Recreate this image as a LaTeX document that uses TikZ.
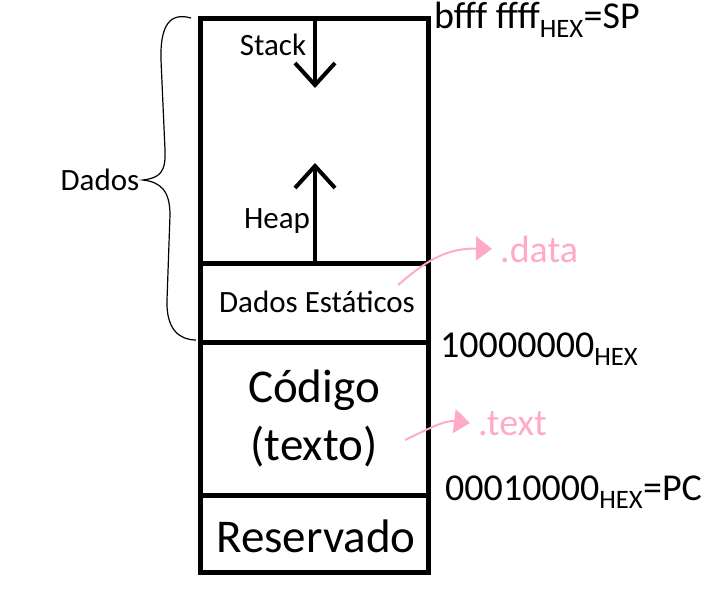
\documentclass[tikz,border=0pt]{standalone}
\usepackage{fontspec}
\setmainfont{Carlito}
\usetikzlibrary{arrows.meta}
\definecolor{mypink}{RGB}{255,170,200}

\tikzset{
  seg/.style={draw, line width=5pt, minimum width=228pt, inner sep=0pt, outer sep=0pt},
  seta/.style={line width=4pt, -{Straight Barb[length=22pt,width=40pt]}},
  rosa/.style={mypink, line width=2pt, shorten >=8pt, -{Triangle[length=16pt,width=24pt]}},
  mao/.style={font=\fontsize{38}{40}\selectfont, inner sep=0pt}
}

\begin{document}
\begin{tikzpicture}[x=1pt,y=-1pt]

% Background
\useasboundingbox (0,0) rectangle (708,603);

% Memory segments
\node[seg, minimum height=245pt] (pilha) at (314,140.5) {};
\node[seg, minimum height=79pt] (estaticos) at (314,302.5) {};
\node[seg, minimum height=153pt] (codigo) at (314,418.5) {};
\node[seg, minimum height=77pt] (reservado) at (314,533.5) {};

% Labels inside
\node[font=\fontsize{31}{34}\selectfont] (stack) at (273,45) {Stack};
\node[font=\fontsize{31}{34}\selectfont] (heap) at (277,221) {Heap};
\node[font=\fontsize{31}{34}\selectfont] (dadosest) at (317,302) {Dados Estáticos};
\node[font=\fontsize{47}{58}\selectfont, align=center] (codtxt) at (314,418) {Código\\(texto)};
\node[font=\fontsize{47}{50}\selectfont] (res) at (316,536) {Reservado};

% Stack and heap arrows
\coordinate (stacktop) at (315,20);
\coordinate (stacktip) at (315,88);
\coordinate (heapbase) at (315,263);
\coordinate (heaptip) at (315,163);
\draw[seta] (stacktop) -- (stacktip);
\draw[seta] (heapbase) -- (heaptip);

% Brace
\node[font=\fontsize{31}{34}\selectfont] (dados) at (100,180) {Dados};
\coordinate (bracetop) at (191,18);
\coordinate (bracebot) at (196,340);
\draw[line width=1.2pt] (bracetop) .. controls (170,12) and (160,25) .. (161,60)
  -- (165,150) .. controls (166,172) and (160,178) .. (dados.east)
  .. controls (160,182) and (170,190) .. (170,215)
  -- (167,300) .. controls (166,330) and (180,340) .. (bracebot);

% Addresses
\node[mao, anchor=west] (sp) at (434,20) {bfff ffff\textsubscript{HEX}=SP};
\node[mao, anchor=west] (dataaddr) at (440,349) {10000000\textsubscript{HEX}};
\node[mao, anchor=west] (pc) at (445,492) {00010000\textsubscript{HEX}=PC};

% Sections
\node[mypink, mao, anchor=west] (data) at (500,249) {.data};
\node[mypink, mao, anchor=west] (text) at (478,424) {.text};
\coordinate (datafrom) at (398,285);
\coordinate (textfrom) at (405,440);
\draw[rosa] (datafrom) .. controls (425,262) and (445,248) .. (data.west);
\draw[rosa] (textfrom) .. controls (430,428) and (445,420) .. (text.west);

\end{tikzpicture}
\end{document}
